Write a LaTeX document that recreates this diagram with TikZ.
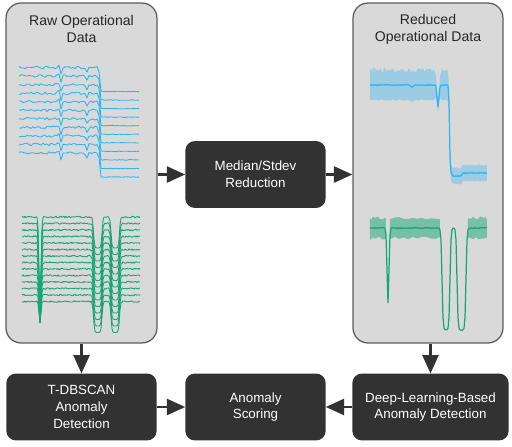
\documentclass[tikz,border=0pt]{standalone}
\usepackage{fontspec}
\setmainfont{Liberation Sans}
\usetikzlibrary{arrows.meta}

% 信号用函数 (helper functions)
\pgfmathdeclarefunction{lgs}{1}{\pgfmathparse{1/(1+exp(min(max(-1*(#1),-9),9)))}}
\pgfmathdeclarefunction{bump}{1}{\pgfmathparse{exp(max(-1*(#1)*(#1),-9))}}
\pgfmathdeclarefunction{well}{3}{\pgfmathparse{lgs(2*((#1)-(#2)))*lgs(2*((#3)-(#1)))}}
\pgfmathdeclarefunction{redblue}{1}{\pgfmathparse{85+22*bump(((#1)-438)/1.3)+2*bump(((#1)-412)/2)+88*lgs(3*((#1)-449.5))+3*well(#1,452,462)}}
\pgfmathdeclarefunction{bandblue}{1}{\pgfmathparse{(15-7*lgs(3*((#1)-449.5)))*(1-0.7*bump(((#1)-438)/2))}}
\pgfmathdeclarefunction{redgreen}{1}{\pgfmathparse{228+75*bump(((#1)-388)/1.3)+102*max(well(#1,442,450),well(#1,457,466))}}

\begin{document}
\begin{tikzpicture}[x=0.02cm, y=-0.02cm, thick,
    panel/.style={draw=panelline, fill=panelgray, rounded corners=0.3cm, line width=0.7pt, minimum height=6.8cm},
    darkbox/.style={fill=boxgray, draw=boxgray, rounded corners=0.18cm, text=white, align=center,
        minimum height=1.31cm, font=\fontsize{7.6}{9.6}\selectfont},
    title/.style={align=center, text=black!85, font=\fontsize{8}{9.6}\selectfont},
    flow/.style={-{Triangle[length=10.5pt,width=9pt]}, line width=1.7pt, draw=boxgray},
    bluesig/.style={draw=sigblue, line width=0.5pt, line join=round},
    greensig/.style={draw=siggreen, line width=0.5pt, line join=round}]
    % 定义颜色
    \definecolor{panelgray}{RGB}{217, 217, 217}
    \definecolor{panelline}{RGB}{90, 90, 90}
    \definecolor{boxgray}{RGB}{50, 50, 50}
    \definecolor{sigblue}{RGB}{41, 182, 246}
    \definecolor{siggreen}{RGB}{22, 166, 116}
    \pgfmathsetseed{4711}

    \useasboundingbox (0, 0) rectangle (512, 447);

    % 数据面板 (Panels)
    \node[panel, minimum width=3.02cm] (rawpanel) at (81.5, 173) {};
    \node[panel, minimum width=3.0cm] (redpanel) at (428, 173) {};
    \node[title] (rawtitle) at (81.5, 29) {Raw Operational\\Data};
    \node[title] (redtitle) at (428, 29) {Reduced\\Operational Data};

    % 原始信号 (Raw signals)
    \foreach \k in {0,...,10} {
        \pgfmathsetmacro{\yo}{67.5+8.55*\k}
        \draw[bluesig] plot[domain=19:139, samples=61] (\x, {\yo + (1.3-1.0*lgs(3*(\x-99.5)))*rand
            + 7*bump((\x-61)/1.2) - 2*bump((\x-59)/1.2) + 5*bump((\x-87)/1.2) + 24*lgs(3*(\x-99.5))});
    }
    \foreach \k in {0,...,13} {
        \pgfmathsetmacro{\yo}{217+6.5*\k}
        \draw[greensig] plot[domain=22:140, samples=119] (\x, {\yo
            + 0.8*rand*(1-max(well(\x,93.5,102),well(\x,111,119.5)))
            + (322-\yo)*bump((\x-40)/1.3)
            + 31*max(well(\x,93.5,102),well(\x,111,119.5))});
    }

    % 约化信号 (Reduced signals)
    \fill[sigblue, opacity=0.35] plot[domain=370:487, samples=118] (\x, {redblue(\x) - bandblue(\x) + 2.2*rand*(abs(\x-438)>2)*(\x<448)+0.8*rand})
        -- plot[domain=487:370, samples=118] (\x, {redblue(\x) + bandblue(\x) + 0.8*rand}) -- cycle;
    \draw[bluesig, line width=0.7pt] plot[domain=370:487, samples=118] (\x, {redblue(\x) + 0.4*rand});
    \foreach \a/\b in {370/386, 390/440, 468/487} {
        \fill[siggreen, opacity=0.5] plot[domain=\a:\b, samples=12] (\x, {218 + 1.5*rand})
            -- plot[domain=\b:\a, samples=12] (\x, {238 + 1.5*rand}) -- cycle;
    }
    \draw[greensig, line width=0.7pt] plot[domain=370:487, samples=118] (\x, {redgreen(\x) + 0.4*rand});

    % 处理步骤 (Steps)
    \node[darkbox, minimum width=2.78cm] (med) at (255.5, 174.5) {Median/Stdev\\Reduction};
    \node[darkbox, minimum width=2.98cm] (tdb) at (81.5, 407) {T-DBSCAN\\Anomaly\\Detection};
    \node[darkbox, minimum width=2.78cm] (score) at (255.5, 407) {Anomaly\\Scoring};
    \node[darkbox, minimum width=3.1cm] (dl) at (430.5, 407) {Deep-Learning-Based\\Anomaly Detection};

    % 箭头 (Arrows)
    \draw[flow] (med.west -| rawpanel.east) -- (med.west);
    \draw[flow] (med.east) -- (med.east -| redpanel.west);
    \draw[flow] (rawpanel.south) -- (tdb.north);
    \draw[flow] (dl.north |- redpanel.south) -- (dl.north);
    \draw[flow] (tdb.east) -- (score.west);
    \draw[flow] (dl.west) -- (score.east);
\end{tikzpicture}
\end{document}
